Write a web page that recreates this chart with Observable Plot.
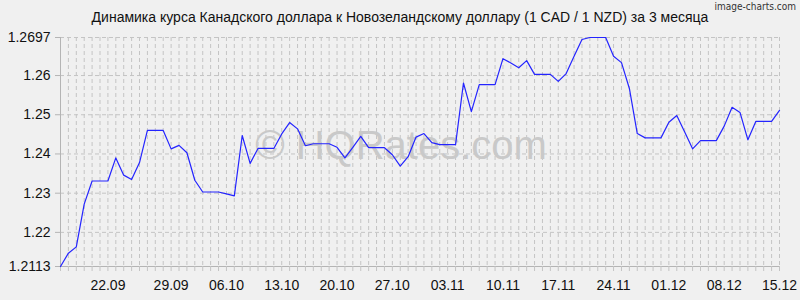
<!DOCTYPE html>
<html>
<head>
<meta charset="utf-8">
<script src="https://cdn.jsdelivr.net/npm/d3@7"></script>
<script src="https://cdn.jsdelivr.net/npm/@observablehq/plot@0.6"></script>
<style>
  html, body { margin: 0; padding: 0; background: #f0f0f0; }
  #wrap { position: relative; width: 800px; height: 300px; overflow: hidden; font-family: "Liberation Sans", Arial, sans-serif; }
  #title { position: absolute; left: 0; top: 9px; width: 800px; text-align: center; font-size: 14px; color: #111; }
  #brand { position: absolute; right: 4px; top: 1px; font-size: 10px; color: #333; font-family: "DejaVu Sans Condensed", "Liberation Sans Narrow", sans-serif; font-stretch: condensed; }
  #chart { position: absolute; left: 0; top: 0; }
</style>
</head>
<body>
<div id="wrap">
  <div id="chart"></div>
  <div id="title">Динамика курса Канадского доллара к Новозеландскому доллару (1 CAD / 1 NZD) за 3 месяца</div>
  <div id="brand">image-charts.com</div>
</div>
<script>
const titleText = "Динамика курса Канадского доллара к Новозеландскому доллару (1 CAD / 1 NZD) за 3 месяца";
const dateLabels = ["22.09","29.09","06.10","13.10","20.10","27.10","03.11","10.11","17.11","24.11","01.12","08.12","15.12"];
const dateLabelIndex = [6,14,21,28,35,42,49,56,63,70,77,84,91];
const rates = [
  1.2113, 1.2147, 1.2163, 1.2272, 1.2331, 1.2331, 1.2331, 1.2390, 1.2346, 1.2335,
  1.2378, 1.2460, 1.2460, 1.2460, 1.2413, 1.2422, 1.2403, 1.2333, 1.2303, 1.2303,
  1.2303, 1.2298, 1.2293, 1.2447, 1.2376, 1.2414, 1.2414, 1.2414, 1.2451, 1.2480,
  1.2464, 1.2421, 1.2426, 1.2426, 1.2426, 1.2417, 1.2390, 1.2417, 1.2445, 1.2416,
  1.2416, 1.2416, 1.2398, 1.2369, 1.2393, 1.2443, 1.2452, 1.2429, 1.2424, 1.2424,
  1.2424, 1.2581, 1.2508, 1.2577, 1.2577, 1.2577, 1.2643, 1.2632, 1.2620, 1.2638,
  1.2603, 1.2603, 1.2603, 1.2585, 1.2605, 1.2649, 1.2692, 1.2697, 1.2697, 1.2697,
  1.2649, 1.2633, 1.2567, 1.2452, 1.2441, 1.2441, 1.2441, 1.2481, 1.2498, 1.2456,
  1.2413, 1.2434, 1.2434, 1.2434, 1.2471, 1.2519, 1.2506, 1.2436, 1.2483, 1.2483,
  1.2483, 1.2511
];
const yTicks = [1.2113, 1.22, 1.23, 1.24, 1.25, 1.26, 1.2697];
const yTickLabels = ["1.2113", "1.22", "1.23", "1.24", "1.25", "1.26", "1.2697"];
const watermark = "© HQRates.com";

const idx = rates.map((d, i) => i);
const labelMap = new Map(dateLabelIndex.map((k, i) => [k, dateLabels[i]]));
const yLabelMap = new Map(yTicks.map((v, i) => [v, yTickLabels[i]]));
const yMin = d3.min(yTicks), yMax = d3.max(yTicks);

const chart = Plot.plot({
  width: 800,
  height: 300,
  marginTop: 37,
  marginBottom: 34,
  marginLeft: 60,
  marginRight: 21,
  style: { background: "transparent", fontFamily: "Liberation Sans, Arial, sans-serif", fontSize: "14px", color: "#111" },
  x: { domain: [0, rates.length - 1] },
  y: { domain: [yMin, yMax] },
  marks: [
    Plot.gridX(idx, { stroke: "#c4c4c4", strokeOpacity: 1, strokeDasharray: "4,3" }),
    Plot.gridY(yTicks.filter(v => v !== yMin), { stroke: "#c4c4c4", strokeOpacity: 1, strokeDasharray: "4,3" }),
    Plot.text([watermark], { frameAnchor: "middle", dx: -19, dy: -6, fontSize: 40, fill: "#c9c9c9", fontFamily: "Liberation Sans, Arial, sans-serif" }),
    Plot.ruleY([yMin], { stroke: "#b4b4b4" }),
    Plot.ruleX([0], { stroke: "#b4b4b4" }),
    Plot.axisX(idx, { tickSize: 5, tickPadding: 9, stroke: "#c4c4c4", fill: "#111", tickFormat: d => labelMap.get(d) || "", label: null }),
    Plot.axisY(yTicks, { tickSize: 5, tickPadding: 5, stroke: "#b4b4b4", fill: "#111", tickFormat: d => yLabelMap.get(d), label: null }),
    Plot.lineY(rates, { x: (d, i) => i, y: d => d, stroke: "#2424ff", strokeWidth: 1.2 })
  ]
});
document.getElementById("chart").appendChild(chart);
</script>
</body>
</html>
